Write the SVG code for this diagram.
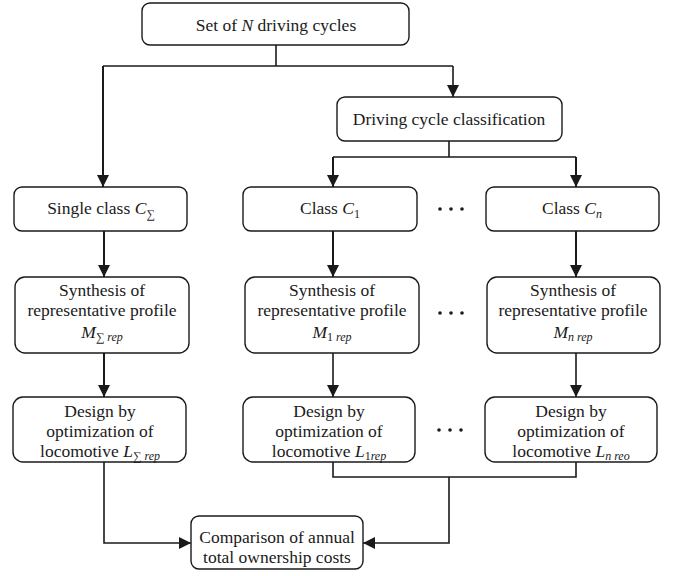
<svg xmlns="http://www.w3.org/2000/svg" width="679" height="576" viewBox="0 0 679 576">
<defs>
<style>
.box{fill:#fff;stroke:#1a1a1a;stroke-width:1.4}
.i{font-style:italic}
.s{font-size:12px}
.ln{fill:none;stroke:#1a1a1a;stroke-width:1.6}
.th{stroke-width:2}
.dot{fill:#1a1a1a}
</style>
<marker id="ah" markerUnits="userSpaceOnUse" markerWidth="12" markerHeight="12" viewBox="0 0 12 12" refX="12" refY="6" orient="auto">
<path d="M0,0 L12,6 L0,12 Z" fill="#1a1a1a"/>
</marker>
</defs>
<rect width="679" height="576" fill="#fff"/>

<g id="connectors">
<path class="ln" d="M276,45 V66"/>
<path class="ln" d="M103,66 H453"/>
<path class="ln th" d="M103,66 V187" marker-end="url(#ah)"/>
<path class="ln" d="M453,66 V97" marker-end="url(#ah)"/>
<path class="ln" d="M449,141 V157"/>
<path class="ln" d="M333,157 H576"/>
<path class="ln th" d="M333,157 V187" marker-end="url(#ah)"/>
<path class="ln th" d="M576,157 V187" marker-end="url(#ah)"/>
<path class="ln th" d="M104,231 V277" marker-end="url(#ah)"/>
<path class="ln th" d="M333,231 V277" marker-end="url(#ah)"/>
<path class="ln th" d="M576,231 V277" marker-end="url(#ah)"/>
<path class="ln th" d="M104,353 V397" marker-end="url(#ah)"/>
<path class="ln" d="M333,353 V397" marker-end="url(#ah)"/>
<path class="ln" d="M576,353 V397" marker-end="url(#ah)"/>
<path class="ln" d="M104,462 V543 H191" marker-end="url(#ah)"/>
<path class="ln" d="M333,462 V477 H576 V462"/>
<path class="ln" d="M449,477 V543 H363" marker-end="url(#ah)"/>
</g>

<g font-family="Liberation Serif, Times New Roman, serif" font-size="17.5" fill="#1a1a1a" text-anchor="middle">

<g id="n-set">
<rect class="box" x="142" y="3" width="267" height="42" rx="8"/>
<text x="276" y="31">Set of <tspan class="i">N</tspan> driving cycles</text>
</g>

<g id="n-classification">
<rect class="box" x="337" y="97" width="225" height="44" rx="8"/>
<text x="449" y="125">Driving cycle classification</text>
</g>

<g id="n-single">
<rect class="box" x="14" y="187" width="173" height="44" rx="8"/>
<text x="101" y="214">Single class <tspan class="i">C</tspan><tspan class="s" dy="4">∑</tspan></text>
</g>

<g id="n-c1">
<rect class="box" x="243" y="187" width="174" height="44" rx="8"/>
<text x="330" y="214">Class <tspan class="i">C</tspan><tspan class="s" dy="4">1</tspan></text>
</g>

<g id="n-cn">
<rect class="box" x="486" y="187" width="173" height="44" rx="8"/>
<text x="572" y="214">Class <tspan class="i">C</tspan><tspan class="s i" dy="4">n</tspan></text>
</g>

<g id="dots-1">
<circle class="dot" cx="440" cy="209" r="1.8"/><circle class="dot" cx="451" cy="209" r="1.8"/><circle class="dot" cx="462" cy="209" r="1.8"/>
</g>

<g id="n-syn-sum">
<rect class="box" x="15" y="277" width="174" height="76" rx="10"/>
<text x="102" y="296">Synthesis of</text>
<text x="102" y="316">representative profile</text>
<text x="102" y="338"><tspan class="i">M</tspan><tspan class="s" dy="3">∑ </tspan><tspan class="s i">rep</tspan></text>
</g>

<g id="n-syn-1">
<rect class="box" x="245" y="277" width="174" height="76" rx="10"/>
<text x="332" y="296">Synthesis of</text>
<text x="332" y="316">representative profile</text>
<text x="332" y="338"><tspan class="i">M</tspan><tspan class="s" dy="3">1 </tspan><tspan class="s i">rep</tspan></text>
</g>

<g id="n-syn-n">
<rect class="box" x="487" y="277" width="173" height="76" rx="10"/>
<text x="573" y="296">Synthesis of</text>
<text x="573" y="316">representative profile</text>
<text x="573" y="338"><tspan class="i">M</tspan><tspan class="s i" dy="3">n rep</tspan></text>
</g>

<g id="dots-2">
<circle class="dot" cx="440" cy="313" r="1.8"/><circle class="dot" cx="451" cy="313" r="1.8"/><circle class="dot" cx="462" cy="313" r="1.8"/>
</g>

<g id="n-des-sum">
<rect class="box" x="13" y="397" width="173" height="65" rx="10"/>
<text x="100" y="417">Design by</text>
<text x="100" y="437">optimization of</text>
<text x="100" y="457">locomotive <tspan class="i">L</tspan><tspan class="s" dy="3">∑ </tspan><tspan class="s i">rep</tspan></text>
</g>

<g id="n-des-1">
<rect class="box" x="243" y="397" width="172" height="65" rx="10"/>
<text x="329" y="417">Design by</text>
<text x="329" y="437">optimization of</text>
<text x="329" y="457">locomotive <tspan class="i">L</tspan><tspan class="s" dy="3">1</tspan><tspan class="s i">rep</tspan></text>
</g>

<g id="n-des-n">
<rect class="box" x="485" y="397" width="172" height="65" rx="10"/>
<text x="571" y="417">Design by</text>
<text x="571" y="437">optimization of</text>
<text x="571" y="457">locomotive <tspan class="i">L</tspan><tspan class="s i" dy="3">n reo</tspan></text>
</g>

<g id="dots-3">
<circle class="dot" cx="439" cy="430" r="1.8"/><circle class="dot" cx="450" cy="430" r="1.8"/><circle class="dot" cx="461" cy="430" r="1.8"/>
</g>

<g id="n-compare">
<rect class="box" x="191" y="516" width="172" height="53" rx="8"/>
<text x="277" y="543">Comparison of annual</text>
<text x="277" y="563">total ownership costs</text>
</g>

</g>
</svg>
